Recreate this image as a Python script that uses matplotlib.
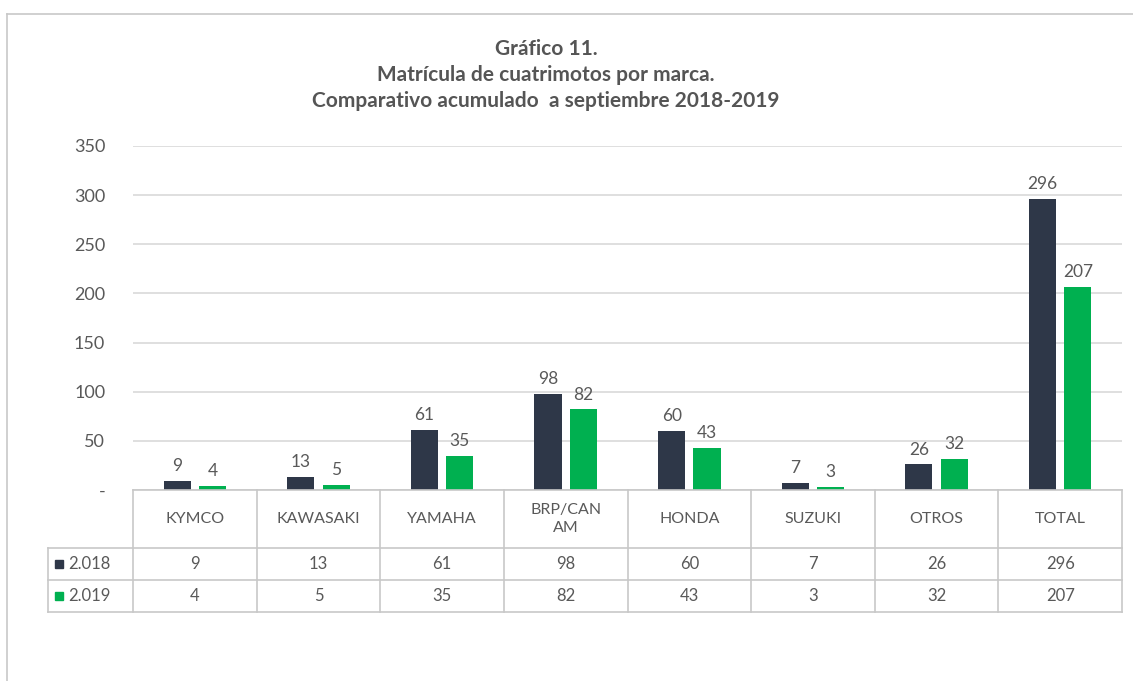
import numpy as np
import matplotlib
matplotlib.use("Agg")
import matplotlib.pyplot as plt
from matplotlib.patches import Rectangle

# data
categories = ["KYMCO", "KAWASAKI", "YAMAHA", "BRP/CAN\nAM", "HONDA", "SUZUKI", "OTROS", "TOTAL"]
series_names = ["2.018", "2.019"]
values_2018 = [9, 13, 61, 98, 60, 7, 26, 296]
values_2019 = [4, 5, 35, 82, 43, 3, 32, 207]
y_ticks = [0, 50, 100, 150, 200, 250, 300, 350]
y_tick_labels = ["-", "50", "100", "150", "200", "250", "300", "350"]

dark = "#2E3748"
green = "#00B050"
text_col = "#595959"
grid_col = "#D9D9D9"
line_col = "#C8C8C8"

plt.rcParams['font.family'] = ['Lato', 'DejaVu Sans']

W, H = 1133, 681
fig = plt.figure(figsize=(W / 100, H / 100), dpi=100)

def fx(px):
    return px / W

def fy(py):
    return 1 - py / H

# chart frame (partially cropped in the reference)
fig.add_artist(plt.Line2D([fx(7), fx(7)], [fy(14), 0], color=line_col, lw=1.2))
fig.add_artist(plt.Line2D([fx(7), 1], [fy(14), fy(14)], color=line_col, lw=1.2))

# title
title = "Gráfico 11.\nMatrícula de cuatrimotos por marca.\nComparativo acumulado  a septiembre 2018-2019"
fig.text(fx(546), fy(75), title, ha="center", va="center", fontsize=15,
         color="#555555", fontweight="bold", linespacing=1.4)

x_left, x_right = 133, 1122
y_top, y_zero = 146, 490
ax = fig.add_axes([fx(x_left), fy(y_zero), (x_right - x_left) / W, (y_zero - y_top) / H])
n = len(categories)
x = np.arange(n)
bw = 0.22
off = 0.143
b1 = ax.bar(x - off, values_2018, bw, color=dark, zorder=3)
b2 = ax.bar(x + off, values_2019, bw, color=green, zorder=3)
for bars, vals in ((b1, values_2018), (b2, values_2019)):
    for rect, v in zip(bars, vals):
        ax.text(rect.get_x() + rect.get_width() / 2, v + 7, str(v), ha="center",
                va="bottom", fontsize=12.5, color=text_col)
ax.set_xlim(-0.5, n - 0.5)
ax.set_ylim(0, 350)
ax.set_yticks(y_ticks)
ax.set_yticklabels(y_tick_labels)
ax.tick_params(axis="y", length=0, pad=20, labelsize=13, labelcolor=text_col)
ax.set_xticks([])
ax.grid(axis="y", color=grid_col, lw=1.2, zorder=0)
for s in ax.spines.values():
    s.set_visible(False)

# data table below the plot
t_left = 48
t_bottom = 612
units_per_px = n / (x_right - x_left)
tab = fig.add_axes([fx(t_left), fy(t_bottom), (x_right - t_left) / W, (t_bottom - y_zero) / H])
tab.set_xlim(-0.5 - (x_left - t_left) * units_per_px, n - 0.5)
tab.set_ylim(t_bottom, y_zero)
tab.axis("off")
xl = -0.5 - (x_left - t_left) * units_per_px
row_lines = [490, 548, 580, 612]
# horizontal lines
tab.plot([-0.5, n - 0.5], [row_lines[0]] * 2, color=line_col, lw=1.2, clip_on=False)
for yy in row_lines[1:]:
    tab.plot([xl, n - 0.5], [yy, yy], color=line_col, lw=1.2, clip_on=False)
# vertical lines
for i in range(n + 1):
    tab.plot([i - 0.5, i - 0.5], [row_lines[0], row_lines[-1]], color=line_col, lw=1.2, clip_on=False)
tab.plot([xl, xl], [row_lines[1], row_lines[-1]], color=line_col, lw=1.2, clip_on=False)

for i, c in enumerate(categories):
    tab.text(i, (row_lines[0] + row_lines[1]) / 2, c, ha="center", va="center",
             fontsize=11.5, color=text_col, linespacing=1.35)
for r, (name, vals, col) in enumerate(zip(series_names, [values_2018, values_2019], [dark, green])):
    yc = (row_lines[r + 1] + row_lines[r + 2]) / 2
    sq = 8 * units_per_px
    tab.add_patch(Rectangle((xl + 7 * units_per_px, yc - 4), sq, 8, color=col, clip_on=False))
    tab.text(xl + 20 * units_per_px, yc, name, ha="left", va="center", fontsize=12, color=text_col)
    for i, v in enumerate(vals):
        tab.text(i, yc, str(v), ha="center", va="center", fontsize=12, color=text_col)

fig.savefig("out.png", dpi=100)
